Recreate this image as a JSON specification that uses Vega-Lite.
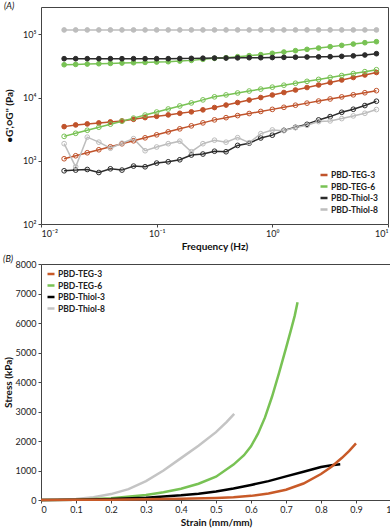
{
"$schema":"https://vega.github.io/schema/vega-lite/v6.json",
"padding":{"left":2,"top":1,"right":3,"bottom":0},
"spacing":2,
"config":{
 "font":"Lato",
 "view":{"stroke":"#444","strokeWidth":1},
 "axis":{"labelFont":"Lato","labelFontSize":9,"labelColor":"#222","titleFont":"Lato","titleFontSize":10,"titleFontWeight":"bold","titleColor":"#111","grid":false,"domain":false,"tickColor":"#444","tickSize":3,"labelPadding":2},
 "legend":{"labelFont":"Lato","labelFontSize":8.5,"labelFontWeight":"bold","labelColor":"#222","symbolType":"stroke","symbolStrokeWidth":2.5,"symbolSize":49,"rowPadding":1.5,"padding":0,"labelOffset":2},
 "title":{"font":"Lato","fontSize":9,"fontStyle":"italic","fontWeight":"normal","color":"#111","anchor":"start","frame":"bounds","offset":-4}
},
"resolve":{"scale":{"color":"independent"},"legend":{"color":"independent"}},
"datasets":{
"rheo":[
{"f":0.01585,"s":"PBD-TEG-3","m":"p","v":3465},{"f":0.01995,"s":"PBD-TEG-3","m":"p","v":3686},{"f":0.02512,"s":"PBD-TEG-3","m":"p","v":3823},{"f":0.03162,"s":"PBD-TEG-3","m":"p","v":3965},{"f":0.03981,"s":"PBD-TEG-3","m":"p","v":4113},{"f":0.05012,"s":"PBD-TEG-3","m":"p","v":4267},{"f":0.0631,"s":"PBD-TEG-3","m":"p","v":4523},{"f":0.07943,"s":"PBD-TEG-3","m":"p","v":4813},{"f":0.1,"s":"PBD-TEG-3","m":"p","v":5049},{"f":0.1259,"s":"PBD-TEG-3","m":"p","v":5313},{"f":0.1585,"s":"PBD-TEG-3","m":"p","v":5633},{"f":0.1995,"s":"PBD-TEG-3","m":"p","v":5930},{"f":0.2512,"s":"PBD-TEG-3","m":"p","v":6379},{"f":0.3162,"s":"PBD-TEG-3","m":"p","v":6940},{"f":0.3981,"s":"PBD-TEG-3","m":"p","v":7603},{"f":0.5012,"s":"PBD-TEG-3","m":"p","v":8329},{"f":0.631,"s":"PBD-TEG-3","m":"p","v":9124},{"f":0.7943,"s":"PBD-TEG-3","m":"p","v":9996},{"f":1,"s":"PBD-TEG-3","m":"p","v":10950},{"f":1.259,"s":"PBD-TEG-3","m":"p","v":11996},{"f":1.585,"s":"PBD-TEG-3","m":"p","v":13142},{"f":1.995,"s":"PBD-TEG-3","m":"p","v":14397},{"f":2.512,"s":"PBD-TEG-3","m":"p","v":15772},{"f":3.162,"s":"PBD-TEG-3","m":"p","v":17278},{"f":3.981,"s":"PBD-TEG-3","m":"p","v":18928},{"f":5.012,"s":"PBD-TEG-3","m":"p","v":20736},{"f":6.31,"s":"PBD-TEG-3","m":"p","v":22716},{"f":7.943,"s":"PBD-TEG-3","m":"p","v":24885},
{"f":0.01585,"s":"PBD-TEG-3","m":"pp","v":1076},{"f":0.01995,"s":"PBD-TEG-3","m":"pp","v":1200},{"f":0.02512,"s":"PBD-TEG-3","m":"pp","v":1338},{"f":0.03162,"s":"PBD-TEG-3","m":"pp","v":1492},{"f":0.03981,"s":"PBD-TEG-3","m":"pp","v":1663},{"f":0.05012,"s":"PBD-TEG-3","m":"pp","v":1855},{"f":0.0631,"s":"PBD-TEG-3","m":"pp","v":2068},{"f":0.07943,"s":"PBD-TEG-3","m":"pp","v":2306},{"f":0.1,"s":"PBD-TEG-3","m":"pp","v":2571},{"f":0.1259,"s":"PBD-TEG-3","m":"pp","v":2866},{"f":0.1585,"s":"PBD-TEG-3","m":"pp","v":3196},{"f":0.1995,"s":"PBD-TEG-3","m":"pp","v":3563},{"f":0.2512,"s":"PBD-TEG-3","m":"pp","v":3973},{"f":0.3162,"s":"PBD-TEG-3","m":"pp","v":4430},{"f":0.3981,"s":"PBD-TEG-3","m":"pp","v":4800},{"f":0.5012,"s":"PBD-TEG-3","m":"pp","v":5177},{"f":0.631,"s":"PBD-TEG-3","m":"pp","v":5584},{"f":0.7943,"s":"PBD-TEG-3","m":"pp","v":6023},{"f":1,"s":"PBD-TEG-3","m":"pp","v":6496},{"f":1.259,"s":"PBD-TEG-3","m":"pp","v":7007},{"f":1.585,"s":"PBD-TEG-3","m":"pp","v":7558},{"f":1.995,"s":"PBD-TEG-3","m":"pp","v":8152},{"f":2.512,"s":"PBD-TEG-3","m":"pp","v":8793},{"f":3.162,"s":"PBD-TEG-3","m":"pp","v":9484},{"f":3.981,"s":"PBD-TEG-3","m":"pp","v":10229},{"f":5.012,"s":"PBD-TEG-3","m":"pp","v":11033},{"f":6.31,"s":"PBD-TEG-3","m":"pp","v":11900},{"f":7.943,"s":"PBD-TEG-3","m":"pp","v":12836},
{"f":0.01585,"s":"PBD-TEG-6","m":"p","v":33000},{"f":0.01995,"s":"PBD-TEG-6","m":"p","v":33405},{"f":0.02512,"s":"PBD-TEG-6","m":"p","v":33815},{"f":0.03162,"s":"PBD-TEG-6","m":"p","v":34230},{"f":0.03981,"s":"PBD-TEG-6","m":"p","v":34650},{"f":0.05012,"s":"PBD-TEG-6","m":"p","v":35075},{"f":0.0631,"s":"PBD-TEG-6","m":"p","v":35505},{"f":0.07943,"s":"PBD-TEG-6","m":"p","v":35940},{"f":0.1,"s":"PBD-TEG-6","m":"p","v":36380},{"f":0.1259,"s":"PBD-TEG-6","m":"p","v":36830},{"f":0.1585,"s":"PBD-TEG-6","m":"p","v":37740},{"f":0.1995,"s":"PBD-TEG-6","m":"p","v":38670},{"f":0.2512,"s":"PBD-TEG-6","m":"p","v":40110},{"f":0.3162,"s":"PBD-TEG-6","m":"p","v":41610},{"f":0.3981,"s":"PBD-TEG-6","m":"p","v":42640},{"f":0.5012,"s":"PBD-TEG-6","m":"p","v":44230},{"f":0.631,"s":"PBD-TEG-6","m":"p","v":45880},{"f":0.7943,"s":"PBD-TEG-6","m":"p","v":47590},{"f":1,"s":"PBD-TEG-6","m":"p","v":49950},{"f":1.259,"s":"PBD-TEG-6","m":"p","v":52420},{"f":1.585,"s":"PBD-TEG-6","m":"p","v":55020},{"f":1.995,"s":"PBD-TEG-6","m":"p","v":57750},{"f":2.512,"s":"PBD-TEG-6","m":"p","v":60610},{"f":3.162,"s":"PBD-TEG-6","m":"p","v":63610},{"f":3.981,"s":"PBD-TEG-6","m":"p","v":66770},{"f":5.012,"s":"PBD-TEG-6","m":"p","v":70070},{"f":6.31,"s":"PBD-TEG-6","m":"p","v":73550},{"f":7.943,"s":"PBD-TEG-6","m":"p","v":76300},
{"f":0.01585,"s":"PBD-TEG-6","m":"pp","v":2432},{"f":0.01995,"s":"PBD-TEG-6","m":"pp","v":2717},{"f":0.02512,"s":"PBD-TEG-6","m":"pp","v":3035},{"f":0.03162,"s":"PBD-TEG-6","m":"pp","v":3390},{"f":0.03981,"s":"PBD-TEG-6","m":"pp","v":3787},{"f":0.05012,"s":"PBD-TEG-6","m":"pp","v":4230},{"f":0.0631,"s":"PBD-TEG-6","m":"pp","v":4725},{"f":0.07943,"s":"PBD-TEG-6","m":"pp","v":5278},{"f":0.1,"s":"PBD-TEG-6","m":"pp","v":5895},{"f":0.1259,"s":"PBD-TEG-6","m":"pp","v":6585},{"f":0.1585,"s":"PBD-TEG-6","m":"pp","v":7356},{"f":0.1995,"s":"PBD-TEG-6","m":"pp","v":8216},{"f":0.2512,"s":"PBD-TEG-6","m":"pp","v":9178},{"f":0.3162,"s":"PBD-TEG-6","m":"pp","v":10250},{"f":0.3981,"s":"PBD-TEG-6","m":"pp","v":11000},{"f":0.5012,"s":"PBD-TEG-6","m":"pp","v":11804},{"f":0.631,"s":"PBD-TEG-6","m":"pp","v":12667},{"f":0.7943,"s":"PBD-TEG-6","m":"pp","v":13593},{"f":1,"s":"PBD-TEG-6","m":"pp","v":14587},{"f":1.259,"s":"PBD-TEG-6","m":"pp","v":15653},{"f":1.585,"s":"PBD-TEG-6","m":"pp","v":16798},{"f":1.995,"s":"PBD-TEG-6","m":"pp","v":18026},{"f":2.512,"s":"PBD-TEG-6","m":"pp","v":19344},{"f":3.162,"s":"PBD-TEG-6","m":"pp","v":20758},{"f":3.981,"s":"PBD-TEG-6","m":"pp","v":22275},{"f":5.012,"s":"PBD-TEG-6","m":"pp","v":23904},{"f":6.31,"s":"PBD-TEG-6","m":"pp","v":25651},{"f":7.943,"s":"PBD-TEG-6","m":"pp","v":27527},
{"f":0.01585,"s":"PBD-Thiol-3","m":"p","v":41100},{"f":0.01995,"s":"PBD-Thiol-3","m":"p","v":41100},{"f":0.02512,"s":"PBD-Thiol-3","m":"p","v":41100},{"f":0.03162,"s":"PBD-Thiol-3","m":"p","v":41100},{"f":0.03981,"s":"PBD-Thiol-3","m":"p","v":41100},{"f":0.05012,"s":"PBD-Thiol-3","m":"p","v":41100},{"f":0.0631,"s":"PBD-Thiol-3","m":"p","v":41100},{"f":0.07943,"s":"PBD-Thiol-3","m":"p","v":41100},{"f":0.1,"s":"PBD-Thiol-3","m":"p","v":41100},{"f":0.1259,"s":"PBD-Thiol-3","m":"p","v":41100},{"f":0.1585,"s":"PBD-Thiol-3","m":"p","v":41330},{"f":0.1995,"s":"PBD-Thiol-3","m":"p","v":41590},{"f":0.2512,"s":"PBD-Thiol-3","m":"p","v":41840},{"f":0.3162,"s":"PBD-Thiol-3","m":"p","v":42100},{"f":0.3981,"s":"PBD-Thiol-3","m":"p","v":42100},{"f":0.5012,"s":"PBD-Thiol-3","m":"p","v":42360},{"f":0.631,"s":"PBD-Thiol-3","m":"p","v":42620},{"f":0.7943,"s":"PBD-Thiol-3","m":"p","v":42620},{"f":1,"s":"PBD-Thiol-3","m":"p","v":42880},{"f":1.259,"s":"PBD-Thiol-3","m":"p","v":43150},{"f":1.585,"s":"PBD-Thiol-3","m":"p","v":43420},{"f":1.995,"s":"PBD-Thiol-3","m":"p","v":43680},{"f":2.512,"s":"PBD-Thiol-3","m":"p","v":43950},{"f":3.162,"s":"PBD-Thiol-3","m":"p","v":44220},{"f":3.981,"s":"PBD-Thiol-3","m":"p","v":44780},{"f":5.012,"s":"PBD-Thiol-3","m":"p","v":45600},{"f":6.31,"s":"PBD-Thiol-3","m":"p","v":47000},{"f":7.943,"s":"PBD-Thiol-3","m":"p","v":49330},
{"f":0.01585,"s":"PBD-Thiol-3","m":"pp","v":694},{"f":0.01995,"s":"PBD-Thiol-3","m":"pp","v":712},{"f":0.02512,"s":"PBD-Thiol-3","m":"pp","v":728},{"f":0.03162,"s":"PBD-Thiol-3","m":"pp","v":652},{"f":0.03981,"s":"PBD-Thiol-3","m":"pp","v":746},{"f":0.05012,"s":"PBD-Thiol-3","m":"pp","v":712},{"f":0.0631,"s":"PBD-Thiol-3","m":"pp","v":824},{"f":0.07943,"s":"PBD-Thiol-3","m":"pp","v":803},{"f":0.1,"s":"PBD-Thiol-3","m":"pp","v":919},{"f":0.1259,"s":"PBD-Thiol-3","m":"pp","v":964},{"f":0.1585,"s":"PBD-Thiol-3","m":"pp","v":1037},{"f":0.1995,"s":"PBD-Thiol-3","m":"pp","v":1232},{"f":0.2512,"s":"PBD-Thiol-3","m":"pp","v":1277},{"f":0.3162,"s":"PBD-Thiol-3","m":"pp","v":1415},{"f":0.3981,"s":"PBD-Thiol-3","m":"pp","v":1389},{"f":0.5012,"s":"PBD-Thiol-3","m":"pp","v":1750},{"f":0.631,"s":"PBD-Thiol-3","m":"pp","v":1896},{"f":0.7943,"s":"PBD-Thiol-3","m":"pp","v":2293},{"f":1,"s":"PBD-Thiol-3","m":"pp","v":2540},{"f":1.259,"s":"PBD-Thiol-3","m":"pp","v":3027},{"f":1.585,"s":"PBD-Thiol-3","m":"pp","v":3378},{"f":1.995,"s":"PBD-Thiol-3","m":"pp","v":3769},{"f":2.512,"s":"PBD-Thiol-3","m":"pp","v":4426},{"f":3.162,"s":"PBD-Thiol-3","m":"pp","v":4993},{"f":3.981,"s":"PBD-Thiol-3","m":"pp","v":5843},{"f":5.012,"s":"PBD-Thiol-3","m":"pp","v":6522},{"f":6.31,"s":"PBD-Thiol-3","m":"pp","v":7464},{"f":7.943,"s":"PBD-Thiol-3","m":"pp","v":8735},
{"f":0.01585,"s":"PBD-Thiol-8","m":"p","v":117000},{"f":0.01995,"s":"PBD-Thiol-8","m":"p","v":117000},{"f":0.02512,"s":"PBD-Thiol-8","m":"p","v":117000},{"f":0.03162,"s":"PBD-Thiol-8","m":"p","v":117000},{"f":0.03981,"s":"PBD-Thiol-8","m":"p","v":117000},{"f":0.05012,"s":"PBD-Thiol-8","m":"p","v":117000},{"f":0.0631,"s":"PBD-Thiol-8","m":"p","v":117000},{"f":0.07943,"s":"PBD-Thiol-8","m":"p","v":117000},{"f":0.1,"s":"PBD-Thiol-8","m":"p","v":117000},{"f":0.1259,"s":"PBD-Thiol-8","m":"p","v":117000},{"f":0.1585,"s":"PBD-Thiol-8","m":"p","v":117000},{"f":0.1995,"s":"PBD-Thiol-8","m":"p","v":117000},{"f":0.2512,"s":"PBD-Thiol-8","m":"p","v":117000},{"f":0.3162,"s":"PBD-Thiol-8","m":"p","v":117000},{"f":0.3981,"s":"PBD-Thiol-8","m":"p","v":117000},{"f":0.5012,"s":"PBD-Thiol-8","m":"p","v":117000},{"f":0.631,"s":"PBD-Thiol-8","m":"p","v":117000},{"f":0.7943,"s":"PBD-Thiol-8","m":"p","v":117000},{"f":1,"s":"PBD-Thiol-8","m":"p","v":117000},{"f":1.259,"s":"PBD-Thiol-8","m":"p","v":117000},{"f":1.585,"s":"PBD-Thiol-8","m":"p","v":117000},{"f":1.995,"s":"PBD-Thiol-8","m":"p","v":117000},{"f":2.512,"s":"PBD-Thiol-8","m":"p","v":117000},{"f":3.162,"s":"PBD-Thiol-8","m":"p","v":117000},{"f":3.981,"s":"PBD-Thiol-8","m":"p","v":117000},{"f":5.012,"s":"PBD-Thiol-8","m":"p","v":117000},{"f":6.31,"s":"PBD-Thiol-8","m":"p","v":117000},{"f":7.943,"s":"PBD-Thiol-8","m":"p","v":117000},
{"f":0.01585,"s":"PBD-Thiol-8","m":"pp","v":1862},{"f":0.01995,"s":"PBD-Thiol-8","m":"pp","v":803},{"f":0.02512,"s":"PBD-Thiol-8","m":"pp","v":2361},{"f":0.03162,"s":"PBD-Thiol-8","m":"pp","v":1967},{"f":0.03981,"s":"PBD-Thiol-8","m":"pp","v":1579},{"f":0.05012,"s":"PBD-Thiol-8","m":"pp","v":1896},{"f":0.0631,"s":"PBD-Thiol-8","m":"pp","v":2235},{"f":0.07943,"s":"PBD-Thiol-8","m":"pp","v":1441},{"f":0.1,"s":"PBD-Thiol-8","m":"pp","v":1650},{"f":0.1259,"s":"PBD-Thiol-8","m":"pp","v":1862},{"f":0.1585,"s":"PBD-Thiol-8","m":"pp","v":2040},{"f":0.1995,"s":"PBD-Thiol-8","m":"pp","v":1389},{"f":0.2512,"s":"PBD-Thiol-8","m":"pp","v":1862},{"f":0.3162,"s":"PBD-Thiol-8","m":"pp","v":2115},{"f":0.3981,"s":"PBD-Thiol-8","m":"pp","v":1967},{"f":0.5012,"s":"PBD-Thiol-8","m":"pp","v":2318},{"f":0.631,"s":"PBD-Thiol-8","m":"pp","v":1931},{"f":0.7943,"s":"PBD-Thiol-8","m":"pp","v":2683},{"f":1,"s":"PBD-Thiol-8","m":"pp","v":3071},{"f":1.259,"s":"PBD-Thiol-8","m":"pp","v":2994},{"f":1.585,"s":"PBD-Thiol-8","m":"pp","v":3341},{"f":1.995,"s":"PBD-Thiol-8","m":"pp","v":3634},{"f":2.512,"s":"PBD-Thiol-8","m":"pp","v":4160},{"f":3.162,"s":"PBD-Thiol-8","m":"pp","v":4267},{"f":3.981,"s":"PBD-Thiol-8","m":"pp","v":4642},{"f":5.012,"s":"PBD-Thiol-8","m":"pp","v":5122},{"f":6.31,"s":"PBD-Thiol-8","m":"pp","v":5633},{"f":7.943,"s":"PBD-Thiol-8","m":"pp","v":6449}
],
"tens":[
{"s":"PBD-Thiol-8","e":0,"p":0},{"s":"PBD-Thiol-8","e":0.05,"p":8},{"s":"PBD-Thiol-8","e":0.1,"p":35},{"s":"PBD-Thiol-8","e":0.15,"p":95},{"s":"PBD-Thiol-8","e":0.2,"p":200},{"s":"PBD-Thiol-8","e":0.25,"p":370},{"s":"PBD-Thiol-8","e":0.3,"p":640},{"s":"PBD-Thiol-8","e":0.35,"p":1000},{"s":"PBD-Thiol-8","e":0.4,"p":1420},{"s":"PBD-Thiol-8","e":0.45,"p":1840},{"s":"PBD-Thiol-8","e":0.5,"p":2300},{"s":"PBD-Thiol-8","e":0.53,"p":2640},{"s":"PBD-Thiol-8","e":0.552,"p":2920},
{"s":"PBD-TEG-6","e":0,"p":0},{"s":"PBD-TEG-6","e":0.1,"p":12},{"s":"PBD-TEG-6","e":0.2,"p":60},{"s":"PBD-TEG-6","e":0.3,"p":170},{"s":"PBD-TEG-6","e":0.35,"p":260},{"s":"PBD-TEG-6","e":0.4,"p":380},{"s":"PBD-TEG-6","e":0.45,"p":550},{"s":"PBD-TEG-6","e":0.5,"p":790},{"s":"PBD-TEG-6","e":0.55,"p":1200},{"s":"PBD-TEG-6","e":0.58,"p":1520},{"s":"PBD-TEG-6","e":0.6,"p":1820},{"s":"PBD-TEG-6","e":0.62,"p":2250},{"s":"PBD-TEG-6","e":0.64,"p":2800},{"s":"PBD-TEG-6","e":0.66,"p":3500},{"s":"PBD-TEG-6","e":0.68,"p":4300},{"s":"PBD-TEG-6","e":0.7,"p":5150},{"s":"PBD-TEG-6","e":0.715,"p":5800},{"s":"PBD-TEG-6","e":0.725,"p":6250},{"s":"PBD-TEG-6","e":0.733,"p":6700},
{"s":"PBD-Thiol-3","e":0,"p":0},{"s":"PBD-Thiol-3","e":0.1,"p":8},{"s":"PBD-Thiol-3","e":0.2,"p":30},{"s":"PBD-Thiol-3","e":0.3,"p":80},{"s":"PBD-Thiol-3","e":0.4,"p":160},{"s":"PBD-Thiol-3","e":0.45,"p":215},{"s":"PBD-Thiol-3","e":0.5,"p":290},{"s":"PBD-Thiol-3","e":0.55,"p":390},{"s":"PBD-Thiol-3","e":0.6,"p":510},{"s":"PBD-Thiol-3","e":0.65,"p":640},{"s":"PBD-Thiol-3","e":0.7,"p":800},{"s":"PBD-Thiol-3","e":0.75,"p":960},{"s":"PBD-Thiol-3","e":0.8,"p":1120},{"s":"PBD-Thiol-3","e":0.83,"p":1175},{"s":"PBD-Thiol-3","e":0.855,"p":1210},
{"s":"PBD-TEG-3","e":0,"p":0},{"s":"PBD-TEG-3","e":0.1,"p":5},{"s":"PBD-TEG-3","e":0.2,"p":12},{"s":"PBD-TEG-3","e":0.3,"p":22},{"s":"PBD-TEG-3","e":0.4,"p":40},{"s":"PBD-TEG-3","e":0.5,"p":70},{"s":"PBD-TEG-3","e":0.55,"p":95},{"s":"PBD-TEG-3","e":0.6,"p":140},{"s":"PBD-TEG-3","e":0.65,"p":220},{"s":"PBD-TEG-3","e":0.7,"p":350},{"s":"PBD-TEG-3","e":0.75,"p":560},{"s":"PBD-TEG-3","e":0.8,"p":880},{"s":"PBD-TEG-3","e":0.83,"p":1130},{"s":"PBD-TEG-3","e":0.86,"p":1430},{"s":"PBD-TEG-3","e":0.88,"p":1660},{"s":"PBD-TEG-3","e":0.9,"p":1920}
]
},
"vconcat":[
{
 "title":"(A)",
 "width":347,"height":217,
 "data":{"name":"rheo"},
 "encoding":{
  "x":{"field":"f","type":"quantitative","scale":{"type":"log","domain":[0.01,10]},"axis":{"title":"Frequency (Hz)","values":[0.01,0.1,1,10],"labelExpr":"datum.value < 0.05 ? '10⁻²' : datum.value < 0.5 ? '10⁻¹' : datum.value < 5 ? '10⁰' : '10¹'","titlePadding":3}},
  "y":{"field":"v","type":"quantitative","scale":{"type":"log","domain":[100,270000]},"axis":{"title":"•G',○G'' (Pa)","values":[100,1000,10000,100000],"labelExpr":"datum.value < 500 ? '10²' : datum.value < 5000 ? '10³' : datum.value < 50000 ? '10⁴' : '10⁵'","minExtent":25,"titlePadding":2}}
 },
 "layer":[
  {"mark":{"type":"line","strokeWidth":1.5},
   "encoding":{"color":{"field":"s","type":"nominal","scale":{"domain":["PBD-TEG-3","PBD-TEG-6","PBD-Thiol-3","PBD-Thiol-8"],"range":["#c0532b","#78c254","#2b2b2b","#bdbdbd"]},"legend":{"title":null,"orient":"bottom-right","offset":9}},"detail":{"field":"m"}}},
  {"mark":{"type":"point","shape":"circle","size":22,"strokeWidth":1,"filled":true,"opacity":1},
   "encoding":{
    "stroke":{"field":"s","type":"nominal","scale":{"domain":["PBD-TEG-3","PBD-TEG-6","PBD-Thiol-3","PBD-Thiol-8"],"range":["#c0532b","#78c254","#2b2b2b","#bdbdbd"]},"legend":null},
    "fill":{"condition":{"test":"datum.m == 'p'","field":"s","type":"nominal","scale":{"domain":["PBD-TEG-3","PBD-TEG-6","PBD-Thiol-3","PBD-Thiol-8"],"range":["#c0532b","#78c254","#2b2b2b","#bdbdbd"]},"legend":null},"value":"transparent"}}}
 ]
},
{
 "title":"(B)",
 "width":350,"height":236,
 "data":{"name":"tens"},
 "mark":{"type":"line","strokeWidth":2.5},
 "encoding":{
  "x":{"field":"e","type":"quantitative","scale":{"domain":[0,1]},"axis":{"title":"Strain (mm/mm)","values":[0,0.1,0.2,0.3,0.4,0.5,0.6,0.7,0.8,0.9,1],"format":"~g","titlePadding":3}},
  "y":{"field":"p","type":"quantitative","scale":{"domain":[0,8000]},"axis":{"title":"Stress (kPa)","values":[0,1000,2000,3000,4000,5000,6000,7000,8000],"format":"d","minExtent":25,"titlePadding":2}},
  "color":{"field":"s","type":"nominal","scale":{"domain":["PBD-TEG-3","PBD-TEG-6","PBD-Thiol-3","PBD-Thiol-8"],"range":["#c85a28","#78c254","#000000","#c4c4c4"]},"legend":{"title":null,"orient":"top-left","offset":5}}
 }
}
]
}
